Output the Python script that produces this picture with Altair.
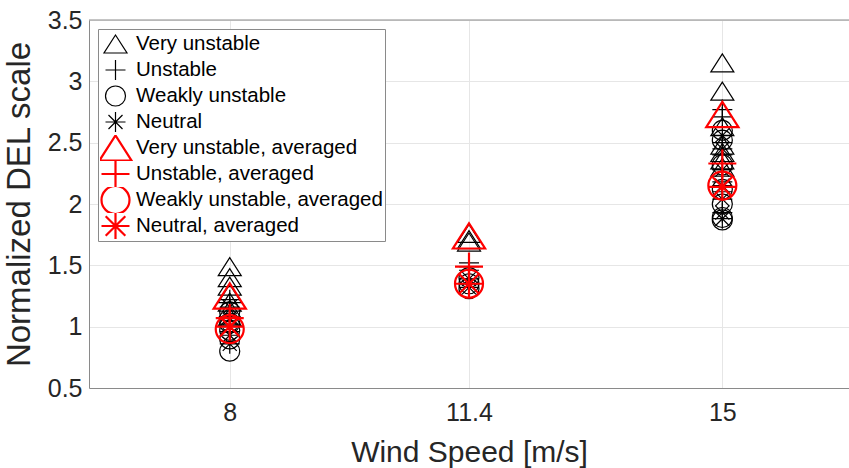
import altair as alt
import pandas as pd

# Wind speeds (m/s) at which the loads were evaluated
wind_speeds = [8, 11.4, 15]

# Stability classes
classes = ["Very unstable", "Unstable", "Weakly unstable", "Neutral"]

# Normalized DEL per case, one list per wind speed (8, 11.4, 15)
very_unstable = [
    [1.49, 1.40, 1.33, 1.27, 1.20, 1.14, 1.08],
    [1.76, 1.71, 1.69],
    [3.15, 2.92, 2.63, 2.48, 2.42, 2.36, 2.30],
]
unstable = [
    [1.22, 1.15, 1.08, 1.02, 0.96],
    [1.52, 1.49, 1.46],
    [2.77, 2.71, 2.50, 2.40, 2.28, 2.18, 2.10],
]
weakly_unstable = [
    [1.12, 1.03, 0.97, 0.90, 0.80],
    [1.40, 1.35, 1.31],
    [2.60, 2.52, 2.32, 2.12, 2.00, 1.89, 1.87],
]
neutral = [
    [1.16, 1.07, 1.00, 0.93, 0.86],
    [1.39, 1.35, 1.32],
    [2.56, 2.45, 2.28, 2.15, 2.04, 1.93, 1.88],
]

# Class averages per wind speed (8, 11.4, 15)
very_unstable_avg = [1.25, 1.74, 2.73]
unstable_avg = [1.07, 1.49, 2.33]
weakly_unstable_avg = [0.98, 1.35, 2.15]
neutral_avg = [1.00, 1.35, 2.14]

y_ticks = [0.5, 1, 1.5, 2, 2.5, 3, 3.5]
x_domain = [6, 16.8]
y_domain = [0.5, 3.5]

# ---- long table -------------------------------------------------------------
avg_labels = [c + ", averaged" for c in classes]
series_labels = classes + avg_labels

rows = []
for name, groups in zip(classes, [very_unstable, unstable, weakly_unstable, neutral]):
    for ws, vals in zip(wind_speeds, groups):
        for v in vals:
            rows.append({"wind": ws, "value": v, "series": name})
for name, avgs in zip(avg_labels, [very_unstable_avg, unstable_avg, weakly_unstable_avg, neutral_avg]):
    for ws, v in zip(wind_speeds, avgs):
        rows.append({"wind": ws, "value": v, "series": name})
df = pd.DataFrame(rows)

# ---- marker styles ------------------------------------------------------------
TRIANGLE = "M0,-0.9L-1.15,0.9L1.15,0.9Z"
PLUS = "M-1,0H1M0,-1V1"
ASTERISK = "M-1,0H1M0,-1V1M-0.7,-0.7L0.7,0.7M-0.7,0.7L0.7,-0.7"
shape_range = [TRIANGLE, PLUS, "circle", ASTERISK] * 2
color_range = ["#000000"] * 4 + ["#ff0000"] * 4
size_range = [400] * 4 + [784] * 4
width_range = [1.2] * 4 + [2.2] * 4

AXIS_GRAY = "#8a8a8a"
GRID_GRAY = "#e6e6e6"
TEXT = "#262626"
FONT = "Liberation Sans"

legend = alt.Legend(
    orient="top-left",
    offset=9,
    title=None,
    fillColor="white",
    strokeColor=AXIS_GRAY,
    padding=2,
    labelFont=FONT,
    labelFontSize=20.5,
    labelColor="black",
    labelLimit=0,
    labelOffset=5,
    clipHeight=26,
    rowPadding=0,
)

points = (
    alt.Chart(df)
    .mark_point(filled=False, opacity=1)
    .encode(
        x=alt.X(
            "wind:Q",
            scale=alt.Scale(domain=x_domain, nice=False, zero=False),
            axis=alt.Axis(values=wind_speeds, labelExpr="'' + datum.value", title="Wind Speed [m/s]"),
        ),
        y=alt.Y(
            "value:Q",
            scale=alt.Scale(domain=y_domain, nice=False, zero=False),
            axis=alt.Axis(values=y_ticks, labelExpr="'' + datum.value", title="Normalized DEL scale"),
        ),
        color=alt.Color("series:N", scale=alt.Scale(domain=series_labels, range=color_range), legend=legend),
        shape=alt.Shape("series:N", scale=alt.Scale(domain=series_labels, range=shape_range), legend=legend),
        size=alt.Size(
            "series:N",
            scale=alt.Scale(type="ordinal", domain=series_labels, range=size_range),
            legend=legend,
        ),
        strokeWidth=alt.StrokeWidth(
            "series:N",
            scale=alt.Scale(type="ordinal", domain=series_labels, range=width_range),
            legend=legend,
        ),
    )
)

# top edge of the axes box
top_edge = (
    alt.Chart(pd.DataFrame({"value": [y_domain[1]]}))
    .mark_rule(color=AXIS_GRAY, strokeWidth=1)
    .encode(y=alt.Y("value:Q", title="Normalized DEL scale"))
)

chart = (
    alt.layer(points, top_edge)
    .properties(
        width=760,
        height=368,
        padding={"left": 89, "top": 20, "right": 0, "bottom": 80},
        autosize=alt.AutoSizeParams(type="none"),
        background="white",
    )
    .configure_view(stroke=None)
    .configure_axis(
        labelFont=FONT,
        titleFont=FONT,
        labelFontSize=25,
        labelColor=TEXT,
        titleColor=TEXT,
        titleFontWeight="normal",
        tickSize=0,
        domainColor=AXIS_GRAY,
        domainWidth=1,
        gridColor=GRID_GRAY,
        gridWidth=1,
    )
    .configure_axisX(labelPadding=12, titleFontSize=30, titlePadding=12)
    .configure_axisY(labelPadding=7, titleFontSize=33, titlePadding=11)
)

chart.save("out.html", embed_options={"renderer": "svg", "actions": False})
